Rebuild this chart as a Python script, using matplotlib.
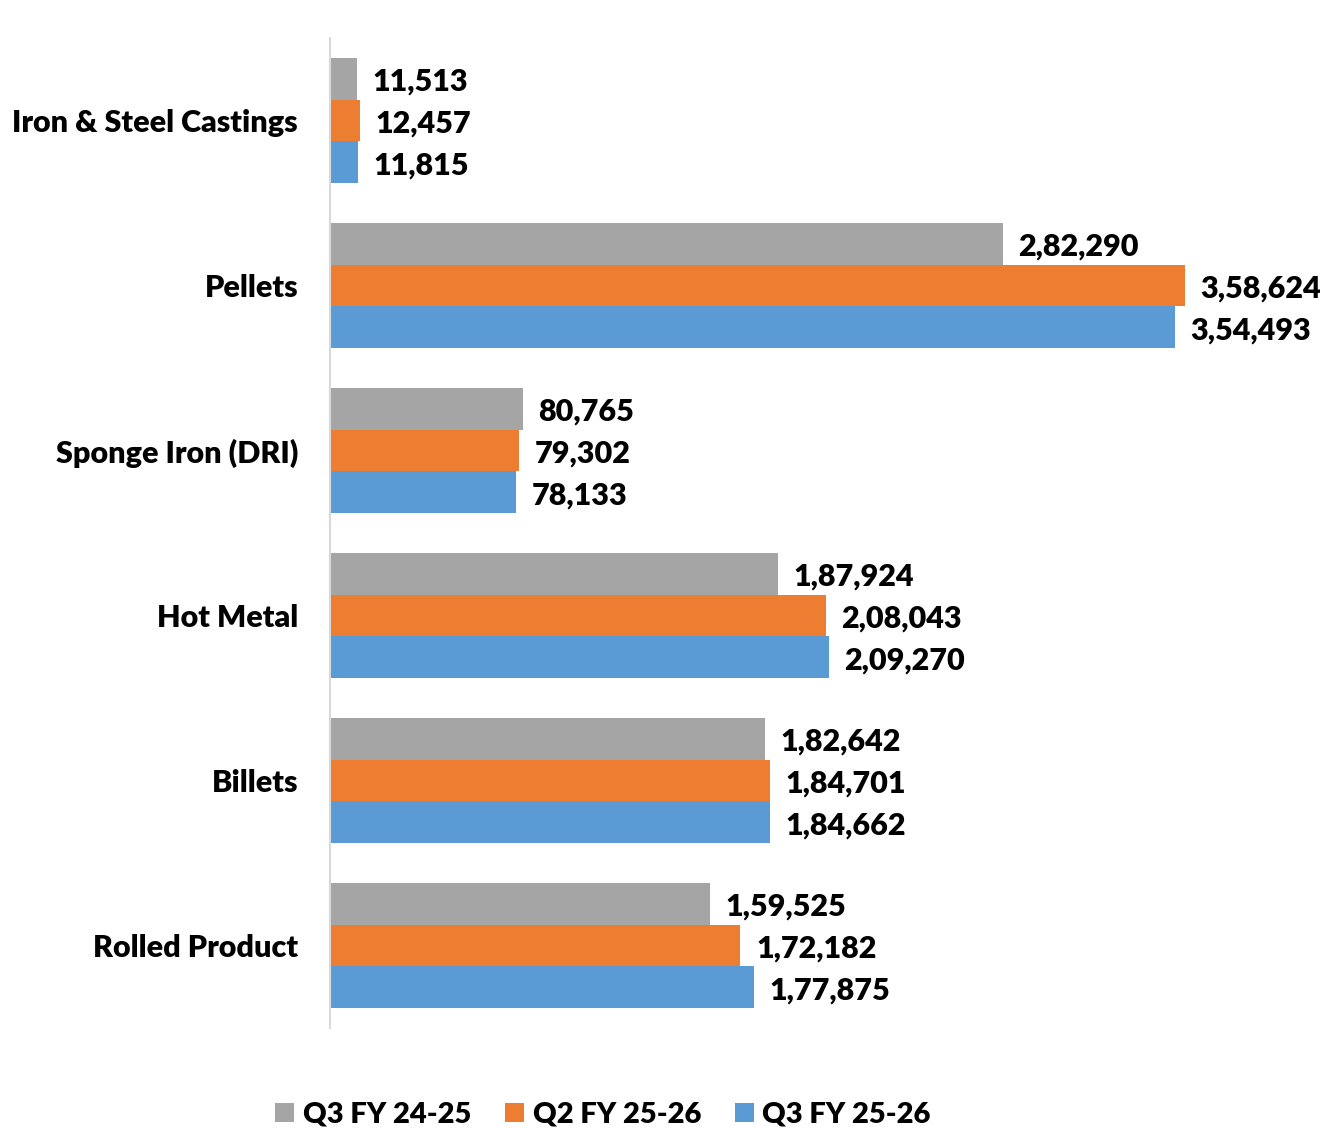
import matplotlib as mpl
mpl.use('Agg')
import matplotlib.pyplot as plt
import numpy as np

categories = ["Iron & Steel Castings", "Pellets", "Sponge Iron (DRI)",
              "Hot Metal", "Billets", "Rolled Product"]
series_names = ["Q3 FY 24-25", "Q2 FY 25-26", "Q3 FY 25-26"]
q3_fy2425 = [11513, 282290, 80765, 187924, 182642, 159525]
q2_fy2526 = [12457, 358624, 79302, 208043, 184701, 172182]
q3_fy2526 = [11815, 354493, 78133, 209270, 184662, 177875]
colors = ["#A5A5A5", "#ED7D31", "#5B9BD5"]


def fmt_indian(n):
    s = str(n)
    if len(s) <= 3:
        return s
    last3 = s[-3:]
    rest = s[:-3]
    parts = []
    while len(rest) > 2:
        parts.insert(0, rest[-2:])
        rest = rest[:-2]
    if rest:
        parts.insert(0, rest)
    return ",".join(parts) + "," + last3


plt.rcParams['font.family'] = ['Lato', 'DejaVu Sans']
plt.rcParams['font.weight'] = 'bold'

fig = plt.figure(figsize=(13.22, 11.29), dpi=100)
ax = fig.add_axes([330 / 1322, 1 - 1028 / 1129, 992 / 1322, 990 / 1129])

y = np.arange(len(categories))
h = 0.254
all_series = [q3_fy2425, q2_fy2526, q3_fy2526]
for k, (vals, col, name) in enumerate(zip(all_series, colors, series_names)):
    pos = y + (k - 1) * h
    ax.barh(pos, vals, height=h, color=col, label=name, edgecolor='none')
    for p, v in zip(pos, vals):
        ax.text(v + 6500, p + 0.02, fmt_indian(v), va='center', ha='left',
                fontsize=22, fontweight='heavy', color='black')

ax.set_ylim(-0.5, len(categories) - 0.5)
ax.invert_yaxis()
ax.set_xlim(0, 416100)
ax.set_yticks(y)
ax.set_yticklabels(categories, fontsize=22, fontweight='heavy')
ax.tick_params(axis='y', length=0, pad=23)
ax.set_xticks([])
for s in ['top', 'right', 'bottom']:
    ax.spines[s].set_visible(False)
ax.spines['left'].set_color('#D9D9D9')
ax.spines['left'].set_linewidth(1.5)

fig.legend(loc='center', bbox_to_anchor=(603 / 1322, 1 - 1115 / 1129), ncol=3,
           frameon=False, prop={'size': 21, 'weight': 'heavy'},
           handlelength=0.65, handleheight=0.65,
           handletextpad=0.3, columnspacing=1.15)

fig.savefig('out.png', dpi=100)
